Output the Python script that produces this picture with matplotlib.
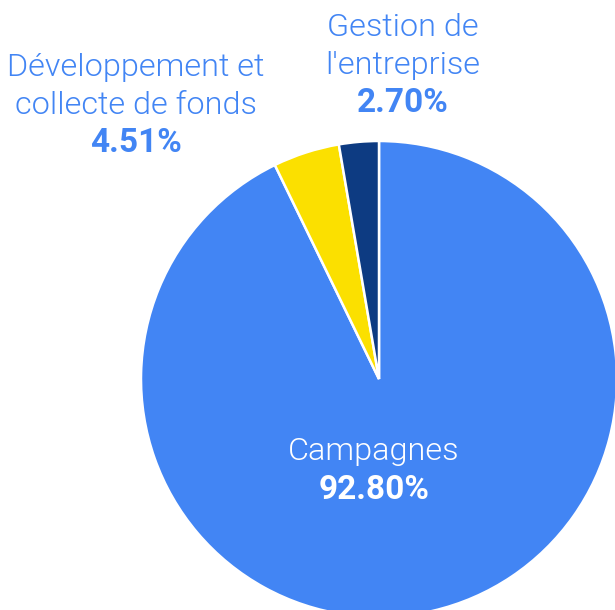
import matplotlib
matplotlib.use("Agg")
import matplotlib.pyplot as plt

labels = ["Campagnes", "Développement et\ncollecte de fonds", "Gestion de\nl'entreprise"]
values = [92.80, 4.51, 2.70]
pct_labels = ["92.80%", "4.51%", "2.70%"]
colors = ["#4285F4", "#FBE000", "#0D3B82"]

W, H = 615, 610
cx, cy, R = 379, 379, 238  # pixel geometry of the pie

fig = plt.figure(figsize=(W / 100, H / 100), dpi=100)
ax = fig.add_axes([0, 0, 1, 1])
ax.pie(values, colors=colors, startangle=90, counterclock=False, radius=1,
       wedgeprops=dict(edgecolor="white", linewidth=1.8))
ax.set_xlim(-cx / R, (W - cx) / R)
ax.set_ylim(-(H - cy) / R, cy / R)
ax.set_aspect("equal")
ax.axis("off")

def px(x, y):
    return (x - cx) / R, (cy - y) / R

font = "Roboto"
blue = "#4285F4"
fs_l = 23.3
fs_b = 24.0
LW = 300

# Campagnes (inside)
ax.text(*px(374, 452), labels[0], ha="center", va="center", fontsize=fs_l,
        family=font, fontweight=LW, color="white")
ax.text(*px(374, 490), pct_labels[0], ha="center", va="center", fontsize=fs_b,
        family=font, fontweight="bold", color="white")
# Développement
ax.text(*px(136, 68), "Développement et", ha="center", va="center", fontsize=fs_l,
        family=font, fontweight=LW, color=blue)
ax.text(*px(136, 105), "collecte de fonds", ha="center", va="center", fontsize=fs_l,
        family=font, fontweight=LW, color=blue)
ax.text(*px(136, 143), pct_labels[1], ha="center", va="center", fontsize=fs_b,
        family=font, fontweight="bold", color=blue)
# Gestion
ax.text(*px(403, 28), "Gestion de", ha="center", va="center", fontsize=fs_l,
        family=font, fontweight=LW, color=blue)
ax.text(*px(403, 65), "l'entreprise", ha="center", va="center", fontsize=fs_l,
        family=font, fontweight=LW, color=blue)
ax.text(*px(403, 103), pct_labels[2], ha="center", va="center", fontsize=fs_b,
        family=font, fontweight="bold", color=blue)

fig.savefig("out.png", dpi=100)
